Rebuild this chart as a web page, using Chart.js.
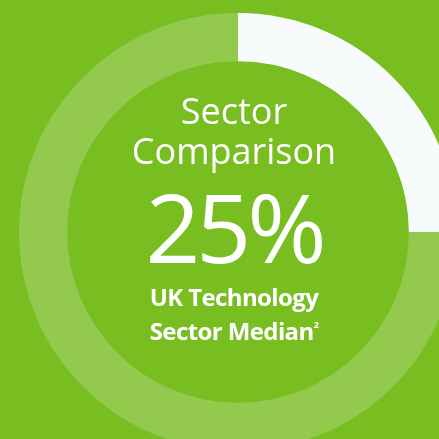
<!DOCTYPE html>
<html>
<head>
<meta charset="utf-8">
<script src="https://cdn.jsdelivr.net/npm/chart.js@4/dist/chart.umd.min.js"></script>
<style>
    html, body { margin: 0; padding: 0; width: 439px; height: 439px; overflow: hidden; background: #78be21; }
    #wrap { position: absolute; left: 19px; top: 13px; width: 438px; height: 438px; }
    .txt { position: absolute; left: 0; width: 468px; text-align: center; color: #fff; font-family: "Open Sans", sans-serif; white-space: nowrap; }
    #t1 { top: 91px; font-size: 36px; font-weight: 400; line-height: 40px; }
    #t2 { top: 176px; font-size: 96px; font-weight: 400; line-height: 100px; letter-spacing: -4px; }
    #t3 { top: 283px; font-size: 24px; font-weight: 700; line-height: 28px; letter-spacing: -0.6px; }
    sup { font-size: 9px; vertical-align: 12px; }
</style>
</head>
<body>
<div id="wrap"><canvas id="sectorChart"></canvas></div>
<div class="txt" id="t1">Sector<br>Comparison</div>
<div class="txt" id="t2">25%</div>
<div class="txt" id="t3">UK Technology<br>Sector Median<sup>2</sup></div>
<script>
    const labels = ['UK Technology Sector Median', 'Remainder'];
    const values = [25, 75];
    const colors = ['#f7fbfc', '#93c94d'];

    document.addEventListener('DOMContentLoaded', function () {
        const ctx = document.getElementById('sectorChart').getContext('2d');
        new Chart(ctx, {
            type: 'doughnut',
            data: {
                labels: labels,
                datasets: [{ data: values, backgroundColor: colors, borderWidth: 0 }]
            },
            options: {
                responsive: true,
                maintainAspectRatio: false,
                animation: false,
                cutout: '78%',
                layout: { padding: 0 },
                plugins: {
                    legend: { display: false },
                    tooltip: { enabled: false }
                }
            }
        });
    });
</script>
</body>
</html>
